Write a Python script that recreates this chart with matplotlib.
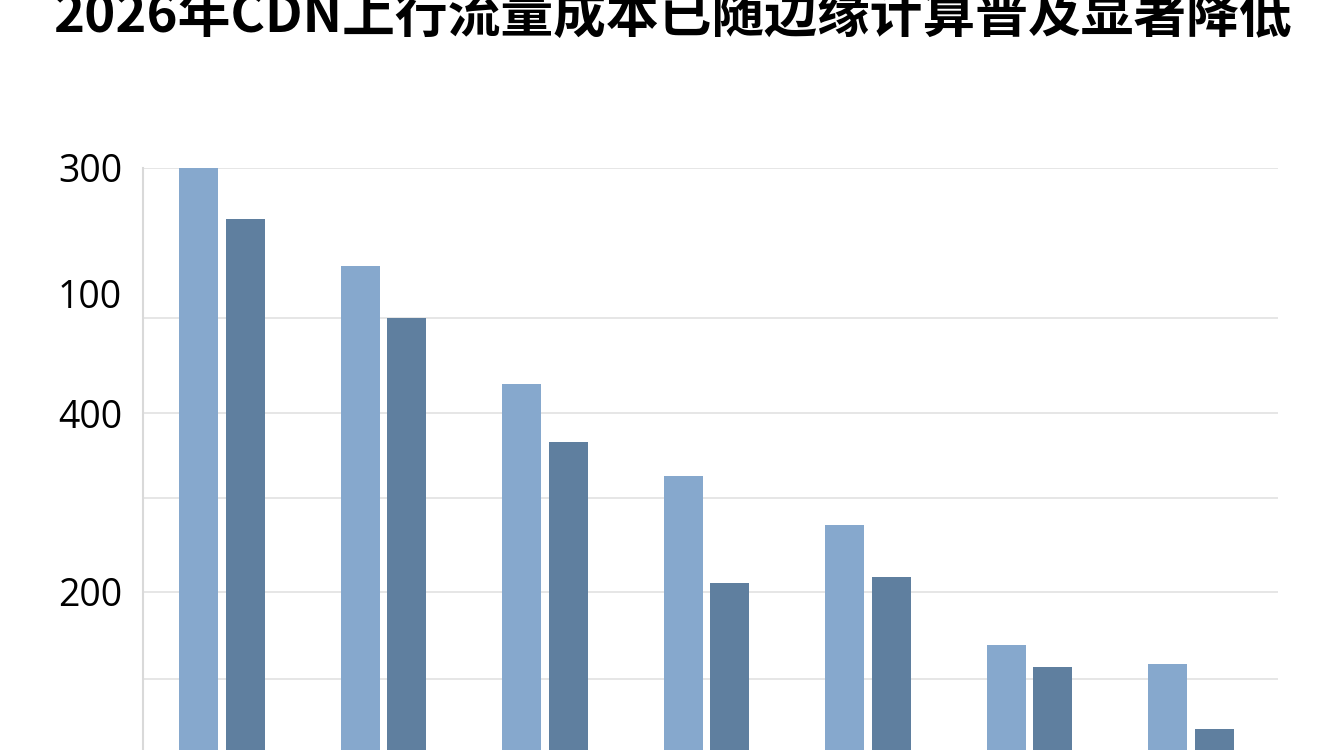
import numpy as np
import matplotlib
matplotlib.use("Agg")
import matplotlib.pyplot as plt

plt.rcParams['font.family'] = ['Noto Sans CJK SC', 'DejaVu Sans']

title = '2026年CDN上行流量成本已随边缘计算普及显著降低'

# seven groups, two series (axis units)
groups = np.arange(7)
series_light = [300, 254, 199, 156, 133, 77, 68]
series_dark = [276, 230, 172, 106, 109, 67, 38]

# the axis labels in the picture do not follow the gridlines, keep them as drawn
label_pos = [300, 241.5, 185.5, 102]
label_txt = ['300', '100', '400', '200']
grid_pos = [300, 230, 185.5, 146, 102, 61]

light_color = '#86a8cd'
dark_color = '#5f7f9f'

fig = plt.figure(figsize=(13.44, 7.5), dpi=100)
fig.patch.set_facecolor('white')

# axes runs below the bottom edge of the figure, the bars are cut like in the source
ax = fig.add_axes([0.1064, -0.08, 0.8445, 0.856])

width = 0.2415
ax.bar(groups - 0.1455, series_light, width, color=light_color, zorder=3)
ax.bar(groups + 0.1424, series_dark, width, color=dark_color, zorder=3)

ax.set_xlim(-0.492, 6.536)
ax.set_ylim(0, 300)

ax.set_yticks(label_pos)
ax.set_yticklabels(label_txt, family=['Open Sans', 'DejaVu Sans'], fontsize=27)
ax.set_yticks(grid_pos, minor=True)
ax.yaxis.remove_overlapping_locs = False
ax.tick_params(axis='y', which='both', length=0, pad=15)
ax.tick_params(axis='x', which='both', length=0, labelbottom=False)
ax.grid(False, which='major')
ax.grid(True, which='minor', axis='y', color='#e6e6e6', linewidth=1.4, zorder=0)
ax.set_axisbelow(True)

for side in ['top', 'right', 'bottom']:
    ax.spines[side].set_visible(False)
ax.spines['left'].set_color('#d9d9d9')
ax.spines['left'].set_linewidth(1.5)

fig.text(0.5, 0.958, title, ha='center', va='baseline', fontsize=38,
         fontweight='bold', color='black')

fig.savefig('out.png', dpi=100)
